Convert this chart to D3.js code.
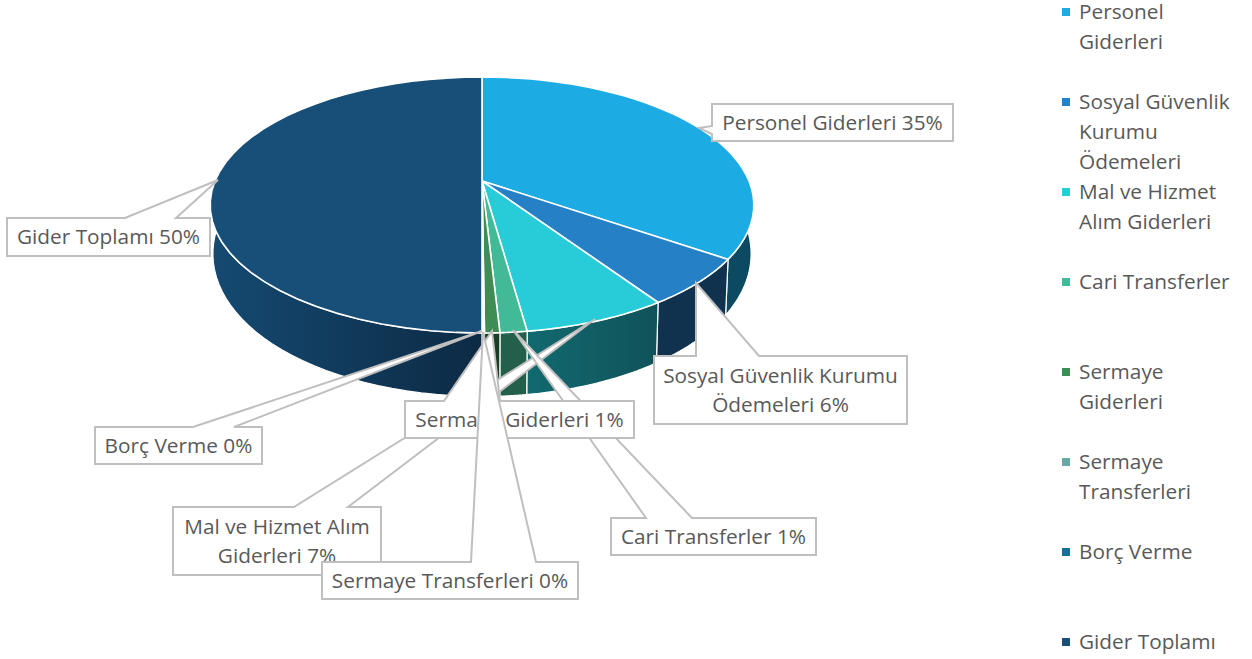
<!DOCTYPE html>
<html><head><meta charset="utf-8">
<script src="https://cdn.jsdelivr.net/npm/d3@7"></script>
<style>html,body{margin:0;background:#fff}svg{display:block}text{font-family:"Open Sans",sans-serif;fill:#595959}</style>
</head><body><svg id="c" width="1252" height="659"></svg>
<script>
const categories=["Personel Giderleri","Sosyal Güvenlik Kurumu Ödemeleri","Mal ve Hizmet Alım Giderleri","Cari Transferler","Sermaye Giderleri","Sermaye Transferleri","Borç Verme","Gider Toplamı"];
const values=[34.6,6.0,7.2,1.33,0.75,0.06,0.06,50];
const topColors=["#1cace3","#2580c5","#27ccd8","#42b997","#3f8d55","#66a9a3","#14709a","#174f78"];
const wallFrom=["#0c4a61","#10324f","#11696f","#235f4a","#173f25","#2a5a50","#0d3a50","#154a72"];
const wallTo=["#0c4a61","#10324f","#11525a","#235f4a","#173f25","#2a5a50","#0d3a50","#0c2a44"];
const legendLines=[["Personel","Giderleri"],["Sosyal Güvenlik","Kurumu","Ödemeleri"],["Mal ve Hizmet","Alım Giderleri"],["Cari Transferler"],["Sermaye","Giderleri"],["Sermaye","Transferleri"],["Borç Verme"],["Gider Toplamı"]];
const labelLines=[["Personel Giderleri 35%"],["Sosyal Güvenlik Kurumu","Ödemeleri 6%"],["Mal ve Hizmet Alım","Giderleri 7%"],["Cari Transferler 1%"],["Sermaye Giderleri 1%"],["Sermaye Transferleri 0%"],["Borç Verme 0%"],["Gider Toplamı 50%"]];

// callout layout: box [x0,y0,x1,y1] and pointer path around the box edge, in paint order
const callouts=[
 {i:2,box:[173,507,381,575],ptr:[[294,507],[595,319],[348,507]]},
 {i:3,box:[611,518,816,555],ptr:[[646,518],[513,330],[692,518]]},
 {i:4,box:[405,401,634,438],ptr:[[444,401],[492,331],[500,401]]},
 {i:1,box:[654,356,907,424],ptr:[[696,356],[696,283],[759,356]]},
 {i:0,box:[712,104,953,141],ptr:[[712,134],[699,128],[712,126]],side:"left"},
 {i:6,box:[95,427,262,464],ptr:[[193,427],[482,331],[234,427]]},
 {i:5,box:[322,562,578,599],ptr:[[471,562],[483,332],[536,562]]},
 {i:7,box:[7,218,210,256],ptr:[[125,218],[218,180],[176,218]]}
];

const svg=d3.select("#c");
const cx=482,cy=181,rX=267,rY=123.5,k=0.1875,shrink=0.99;
const pie=d3.pie().sort(null)(values);
const proj=a=>{const X=Math.sin(a),Y=-Math.cos(a),d=1-k*Y;return [cx+rX*X/d,cy+rY*Y/d,Y];};
const low=a=>{const p=proj(a);return [cx+(p[0]-cx)*shrink,p[1]+45.5+18*p[2]];};
const samples=(a0,a1)=>d3.range(0,41).map(t=>a0+(a1-a0)*t/40);
const line=d3.line();

const defs=svg.append("defs");
pie.forEach((s,i)=>{
  const g=defs.append("linearGradient").attr("id","w"+i).attr("x1",0).attr("x2",1).attr("y1",0).attr("y2",0);
  g.append("stop").attr("offset",0).attr("stop-color",wallFrom[i]);
  g.append("stop").attr("offset",1).attr("stop-color",wallTo[i]);
});

// walls: only the front part of the rim is visible
const vis0=Math.PI*0.40,vis1=Math.PI*1.60;
const wallG=svg.append("g");
pie.forEach((s,i)=>{
  const a0=Math.max(s.startAngle,vis0),a1=Math.min(s.endAngle,vis1);
  const pts=samples(a0,a1);
  const top=pts.map(a=>proj(a).slice(0,2));
  const bot=pts.map(low).reverse();
  wallG.append("path").attr("d",line(top.concat(bot))+"Z").attr("fill",`url(#w${i})`)
    .attr("stroke","#fff").attr("stroke-width",i>=5&&i<=6?0.5:1.2).attr("stroke-linejoin","round");
});

// top faces
const topG=svg.append("g");
pie.forEach((s,i)=>{
  const pts=samples(s.startAngle,s.endAngle).map(a=>proj(a).slice(0,2));
  topG.append("path").attr("d",line([[cx,cy]].concat(pts))+"Z").attr("fill",topColors[i])
    .attr("stroke","#fff").attr("stroke-width",1.6).attr("stroke-linejoin","round");
});

// callouts
const calloutG=svg.append("g");
const fs=20.8,lh=29.5;
callouts.forEach(c=>{
  const [x0,y0,x1,y1]=c.box;
  const outline=c.side==="left"
    ?[[x0,y0],[x1,y0],[x1,y1],[x0,y1]].concat(c.ptr)
    :[[x0,y0]].concat(c.ptr,[[x1,y0],[x1,y1],[x0,y1]]);
  calloutG.append("path").attr("d",line(outline)+"Z").attr("fill","#fff")
    .attr("stroke","#bfbfbf").attr("stroke-width",2).attr("stroke-linejoin","miter");
  const ls=labelLines[c.i],mx=(x0+x1)/2,my=(y0+y1)/2;
  ls.forEach((t,j)=>calloutG.append("text").attr("x",mx).attr("y",my+(j-(ls.length-1)/2)*lh)
    .attr("dy","0.35em").attr("text-anchor","middle").attr("font-size",fs).text(t));
});

// legend
const legendY=d3.scalePoint().domain(d3.range(categories.length)).range([12,642]);
const legG=svg.append("g");
categories.forEach((c,i)=>{
  const y=legendY(i);
  legG.append("rect").attr("x",1062).attr("y",y-4).attr("width",8).attr("height",8).attr("fill",topColors[i]);
  legendLines[i].forEach((t,j)=>legG.append("text").attr("x",1079).attr("y",y+j*29.7)
    .attr("dy","0.35em").attr("font-size",fs).text(t));
});
</script></body></html>
